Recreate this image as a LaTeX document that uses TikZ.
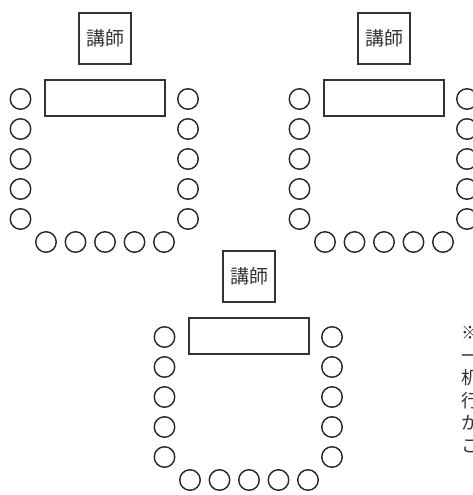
\documentclass[tikz,border=0pt]{standalone}
\usepackage{fontspec}
\newfontfamily\jpfont{Noto Sans CJK JP}
\begin{document}
\begin{tikzpicture}[x=1pt,y=-1pt,
  seat/.style={circle,draw=black!85,line width=1.4pt,minimum size=20.5pt,inner sep=0pt},
  desk/.style={rectangle,draw=black!80,line width=1.8pt,minimum width=120pt,minimum height=36pt,inner sep=0pt},
  lecturer/.style={rectangle,draw=black!80,line width=1.8pt,minimum width=52pt,minimum height=51pt,inner sep=0pt,font=\jpfont\fontsize{19}{22}\selectfont,text=black!80},
  note/.style={anchor=west,inner sep=0pt,font=\jpfont\fontsize{18}{22}\selectfont,text=black!80}]
\useasboundingbox (0,0) rectangle (473,495);
\foreach \g/\ox/\oy in {a/0/0,b/279/0,c/144/238}{
  \begin{scope}[shift={(\ox,\oy)}]
    \node[lecturer] (\g-t) at (105,38.5) {講師};
    \node[desk] (\g-d) at (105,98) {};
    \foreach \i in {0,...,4}{
      \node[seat] (\g-l\i) at (20.5,99+30*\i) {};
      \node[seat] (\g-r\i) at (188,99+30*\i) {};
      \node[seat] (\g-b\i) at (46+29.5*\i,242) {};
    }
  \end{scope}
}
\node[note] (n1) at (461,333) {※グループワーク};
\node[note] (n2) at (461,355.5) {一つの机を囲み};
\node[note] (n3) at (461,378) {机を寄せて};
\node[note] (n4) at (461,400.5) {行います。};
\node[note] (n5) at (461,423) {かならず};
\node[note] (n6) at (461,445.5) {こちらへ};
\end{tikzpicture}
\end{document}
